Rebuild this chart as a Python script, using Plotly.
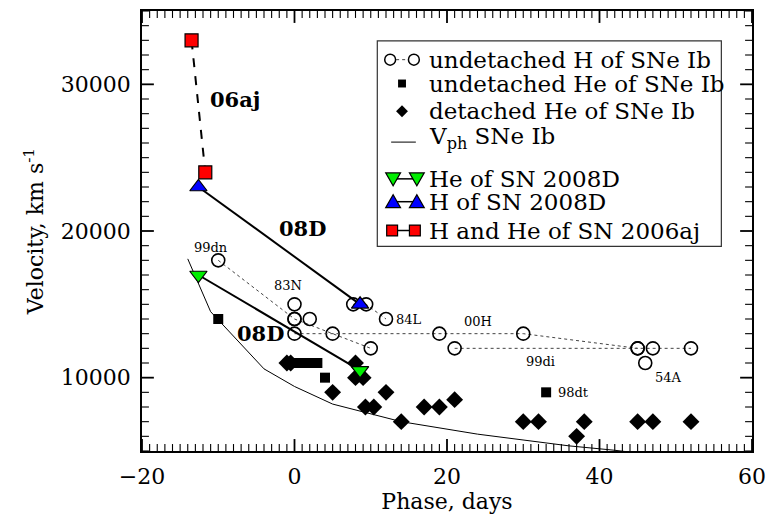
import plotly.graph_objects as go

# ---------------- data ----------------
sn99dn_x = [-10, 0, 5, 10]
sn99dn_y = [18000, 14000, 13000, 12000]
sn83N_x = [0, 0, 2]
sn83N_y = [15000, 14000, 14000]
sn84L_x = [7.7, 9.4, 12]
sn84L_y = [15000, 15000, 14000]
sn00H_x = [0, 19, 30, 45]
sn00H_y = [13000, 13000, 13000, 12000]
sn99di_x = [21, 45, 47, 52]
sn99di_y = [12000, 12000, 12000, 12000]
sn54A_x = [46]
sn54A_y = [11000]

uhe_x = [-10, 0.2, 1.2, 2.3, 3.0, 4.0, 33]
uhe_y = [14000, 11000, 11000, 11000, 11000, 10000, 9000]

dhe_x = [-1, -0.5, 5, 8, 8, 9, 9.3, 10.4, 12, 14, 17, 19, 21, 30, 32, 37, 38, 45, 47, 52]
dhe_y = [11000, 11000, 9000, 11000, 10000, 10000, 8000, 8000, 9000, 7000, 8000, 8000, 8500,
         7000, 7000, 6000, 7000, 7000, 7000, 7000]

vph_x = [-14, -11, -4, 0, 5, 14, 24, 29, 36, 42, 46]
vph_y = [18100, 14500, 10600, 9400, 8200, 7000, 6150, 5800, 5350, 5050, 4800]

he08d_x = [-12.6, 8.6]
he08d_y = [17000, 10500]
h08d_x = [-12.6, 8.6]
h08d_y = [23000, 15000]

sn06aj_x = [-13.5, -11.7]
sn06aj_y = [33000, 24000]

sn_labels = ["99dn", "83N", "00H", "99di", "54A"]
sn_label_x = [-11.0, -0.8, 24.0, 32.3, 49.0]
sn_label_y = [18900, 16300, 13800, 11100, 10000]
left_labels = ["84L", "98dt"]
left_label_x = [13.0, 34.3]
left_label_y = [14000, 9000]
big_labels = ["06aj", "08D", "08D"]
big_label_x = [-7.8, 1.1, -4.5]
big_label_y = [29000, 20200, 13000]

legend_texts = ["undetached H of SNe Ib", "undetached He of SNe Ib", "detached He of SNe Ib",
                "V<sub>ph</sub> SNe Ib", "He of SN 2008D", "H of SN 2008D", "H and He of SN 2006aj"]

x_range = [-20, 60]
y_range = [5000, 35000]

# ---------------- figure ----------------
FONT = "DejaVu Serif"
fig = go.Figure()

circ = dict(symbol="circle-open", size=13, color="black", line=dict(width=1.6, color="black"))
dotted = dict(color="#444", width=1, dash="dot")

fig.add_trace(go.Scatter(x=vph_x, y=vph_y, mode="lines", line=dict(color="black", width=1),
                         showlegend=False))
for xs, ys in [(sn99dn_x, sn99dn_y), (sn84L_x, sn84L_y), (sn00H_x, sn00H_y), (sn99di_x, sn99di_y)]:
    fig.add_trace(go.Scatter(x=xs, y=ys, mode="lines+markers", line=dotted, marker=circ,
                             showlegend=False))
for xs, ys in [(sn83N_x, sn83N_y), (sn54A_x, sn54A_y)]:
    fig.add_trace(go.Scatter(x=xs, y=ys, mode="markers", marker=circ, showlegend=False))

fig.add_trace(go.Scatter(x=uhe_x, y=uhe_y, mode="markers",
                         marker=dict(symbol="square", size=10, color="black"), showlegend=False))
fig.add_trace(go.Scatter(x=dhe_x, y=dhe_y, mode="markers",
                         marker=dict(symbol="diamond", size=13, color="black"), showlegend=False))

fig.add_trace(go.Scatter(x=sn06aj_x, y=sn06aj_y, mode="lines+markers",
                         line=dict(color="black", width=2, dash="dash"),
                         marker=dict(symbol="square", size=13, color="#ff0000",
                                     line=dict(color="black", width=1.2)), showlegend=False))
fig.add_trace(go.Scatter(x=h08d_x, y=h08d_y, mode="lines+markers",
                         line=dict(color="black", width=2),
                         marker=dict(symbol="triangle-up", size=15, color="#0000ff",
                                     line=dict(color="black", width=1.2)), showlegend=False))
fig.add_trace(go.Scatter(x=he08d_x, y=he08d_y, mode="lines+markers",
                         line=dict(color="black", width=2),
                         marker=dict(symbol="triangle-down", size=15, color="#00ee00",
                                     line=dict(color="black", width=1.2)), showlegend=False))

# ---------------- manual legend drawn with paper-referenced shapes ----------------
L, W, T, H = 142, 617, 9, 443
def px(x):
    return (x - L) / W
def py(y):
    return (T + H - y) / H

def seg(x0, x1, y, dash="solid", width=1.5, color="black"):
    return dict(type="line", xref="paper", yref="paper", x0=px(x0), x1=px(x1), y0=py(y), y1=py(y),
                line=dict(color=color, width=width, dash=dash))
def poly(pts, fill, lw=1.2):
    d = "M " + " L ".join(f"{px(a):.5f},{py(b):.5f}" for a, b in pts) + " Z"
    return dict(type="path", xref="paper", yref="paper", path=d, fillcolor=fill,
                line=dict(color="black", width=lw))
def ring(cx, cy, r):
    return dict(type="circle", xref="paper", yref="paper", x0=px(cx - r), x1=px(cx + r),
                y0=py(cy + r), y1=py(cy - r), fillcolor="white", line=dict(color="black", width=1.5))
def sq(cx, cy, h, fill, lw=1.2):
    return poly([(cx - h, cy - h), (cx + h, cy - h), (cx + h, cy + h), (cx - h, cy + h)], fill, lw)
def tri_down(cx, cy, fill):
    return poly([(cx - 7.5, cy - 6), (cx + 7.5, cy - 6), (cx, cy + 7)], fill)
def tri_up(cx, cy, fill):
    return poly([(cx - 7.5, cy + 6), (cx + 7.5, cy + 6), (cx, cy - 7)], fill)

row_y = [58, 82, 110, 141, 178, 201, 230]
k1, k2 = 393, 417
shapes = [dict(type="rect", xref="paper", yref="paper", x0=px(380), x1=px(728),
               y0=py(246), y1=py(39), line=dict(color="#333", width=1.2),
               fillcolor="rgba(0,0,0,0)", layer="below")]
shapes += [seg(k1, k2, row_y[0], dash="dot", width=1, color="#444"),
           ring(k1, row_y[0], 5.5), ring(k2, row_y[0], 5.5)]
shapes += [sq(405, row_y[1], 4, "black", lw=0)]
shapes += [poly([(405, row_y[2] - 6), (411, row_y[2]), (405, row_y[2] + 6), (399, row_y[2])],
                "black", lw=0)]
shapes += [seg(394, 419, row_y[3], width=1)]
shapes += [seg(k1 + 3, k2 + 3, row_y[4]), tri_down(k1 + 3, row_y[4], "#00ee00"),
           tri_down(k2 + 3, row_y[4], "#00ee00")]
shapes += [seg(k1 + 3, k2 + 3, row_y[5]), tri_up(k1 + 3, row_y[5], "#0000ff"),
           tri_up(k2 + 3, row_y[5], "#0000ff")]
shapes += [seg(k1 + 2, k2 + 1, row_y[6]), sq(k1 + 2, row_y[6], 5.5, "#ff0000"),
           sq(k2 + 1, row_y[6], 5.5, "#ff0000")]

# inside ticks on all four sides (major + minor), placed through the axes' own scales
MAJ, MIN = 12, 7
for v in range(x_range[0], x_range[1] + 1, 1):
    major = (v % 20 == 0)
    ln = (MAJ if major else MIN) / H
    w = 1.8 if major else 1.1
    for base, sgn in ((0, 1), (1, -1)):
        shapes.append(dict(type="line", xref="x", yref="paper", x0=v, x1=v,
                           y0=base, y1=base + sgn * ln, line=dict(color="black", width=w)))
for v in range(y_range[0], y_range[1] + 1, 1000):
    major = (v % 10000 == 0)
    ln = (MAJ if major else MIN) / W
    w = 1.8 if major else 1.1
    for base, sgn in ((0, 1), (1, -1)):
        shapes.append(dict(type="line", xref="paper", yref="y", y0=v, y1=v,
                           x0=base, x1=base + sgn * ln, line=dict(color="black", width=w)))

annotations = []
for i, t in enumerate(legend_texts):
    annotations.append(dict(xref="paper", yref="paper", x=px(430), y=py(row_y[i] if i != 3 else 137),
                            text=t, showarrow=False, xanchor="left", yanchor="middle",
                            font=dict(family=FONT, size=23, color="black")))
for t, x, y in zip(sn_labels, sn_label_x, sn_label_y):
    annotations.append(dict(x=x, y=y, text=t, showarrow=False,
                            font=dict(family=FONT, size=13, color="black")))
for t, x, y in zip(left_labels, left_label_x, left_label_y):
    annotations.append(dict(x=x, y=y, text=t, showarrow=False, xanchor="left",
                            font=dict(family=FONT, size=13, color="black")))
for t, x, y in zip(big_labels, big_label_x, big_label_y):
    annotations.append(dict(x=x, y=y, text="<b>" + t + "</b>", showarrow=False,
                            font=dict(family=FONT, size=21, color="black")))

axis_common = dict(showline=True, linecolor="black", linewidth=1.6, mirror=True,
                   ticks="", ticklabelstandoff=5,
                   showgrid=False, zeroline=False, tickformat="d",
                   tickfont=dict(family=FONT, size=22, color="black"))

fig.update_layout(
    width=775, height=514,
    margin=dict(l=L, r=775 - L - W, t=T, b=514 - T - H),
    paper_bgcolor="white", plot_bgcolor="white",
    showlegend=False,
    font=dict(family=FONT, color="black"),
    annotations=annotations,
    shapes=shapes,
    xaxis=dict(range=x_range, tickmode="linear", tick0=-20, dtick=20,
               title=dict(text="Phase, days", standoff=0,
                          font=dict(family=FONT, size=22, color="black")),
               **axis_common),
    yaxis=dict(range=y_range, tickmode="linear", tick0=0, dtick=10000,
               title=dict(text="Velocity, km s<sup>-1</sup>", standoff=11,
                          font=dict(family=FONT, size=22, color="black")),
               **axis_common),
)

fig.write_html("out.html")
